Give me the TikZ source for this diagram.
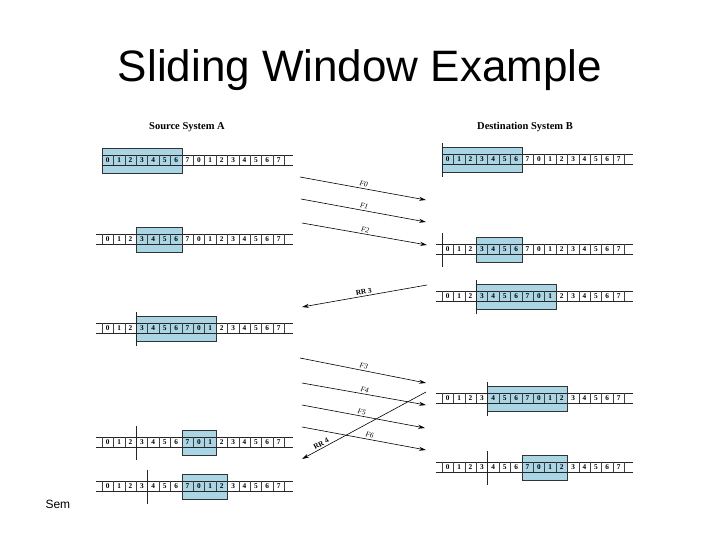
\documentclass[tikz,border=0pt]{standalone}
\usepackage{fontspec}
\setmainfont{Liberation Serif}
\newfontfamily\slidefont{Liberation Sans}
\usepackage{xcolor}
\usepackage{tikz}
\usetikzlibrary{arrows.meta}

\definecolor{winblue}{RGB}{170,213,229}

\tikzset{
  cell/.style={minimum width=11.4pt, minimum height=9pt, inner sep=0,
               font=\fontsize{7.3}{7.3}\selectfont\bfseries},
  winbox/.style={draw=black!80, line width=0.6pt},
  strip/.style={draw=black!85, line width=0.6pt},
  sepline/.style={draw=black!75, line width=0.4pt},
  bound/.style={draw=black!85, line width=0.7pt},
  msg/.style={-{Stealth[length=7pt,width=4pt]}, line width=0.6pt},
  msglabel/.style={above, sloped, inner sep=1.5pt, font=\fontsize{7.3}{7.3}\selectfont},
  header/.style={font=\fontsize{10.5}{10.5}\selectfont\bfseries}
}

\begin{document}
\begin{tikzpicture}[x=1pt, y=-1pt]
  \useasboundingbox (0,0) rectangle (720,540);
  \def\kw{11.4}
  %% Slide title and footer
  \node[font=\slidefont\fontsize{44}{44}\selectfont, anchor=base] (title) at (360,82) {Sliding Window Example};
  \node[font=\slidefont\fontsize{12}{12}\selectfont, anchor=base west] (foot) at (42,508) {Sem};
  %% Column headers
  \node[header] (srchead) at (187,127) {Source System A};
  \node[header] (dsthead) at (525,127) {Destination System B};
  %% Frame rows: name / first cell x / centre y / window from / window to / boundary cell / strip start
  \foreach \rw/\xo/\yc/\wl/\wr/\bk/\sl in {
      s1/102/160/0/7/-1/102, s2/102/239/3/7/-1/96, s3/102/328/3/10/3/96,
      s4/102/442/7/10/3/96, s5/102/486/7/11/4/96,
      d1/442/159/0/7/0/442, d2/442/249/3/7/0/436, d3/442/296/3/10/3/436,
      d4/442/398/4/11/4/436, d5/442/467/7/11/4/436}{
    \fill[winblue] ({\xo+\wl*\kw},{\yc-12}) rectangle ({\xo+\wr*\kw},{\yc+13});
    \draw[strip] (\sl,{\yc-5}) -- ({\xo+191},{\yc-5});
    \draw[strip] (\sl,{\yc+5}) -- ({\xo+191},{\yc+5});
    \foreach \i in {0,...,16}{
      \draw[sepline] ({\xo+\i*\kw},{\yc-5}) -- ({\xo+\i*\kw},{\yc+5});
    }
    \foreach \i in {0,...,15}{
      \pgfmathtruncatemacro\dg{mod(\i,8)}
      \node[cell] (\rw-\i) at ({\xo+(\i+0.5)*\kw},\yc) {\dg};
    }
    \draw[winbox] ({\xo+\wl*\kw},{\yc-12}) rectangle ({\xo+\wr*\kw},{\yc+13});
    \ifnum\bk<0\else
      \draw[bound] ({\xo+\bk*\kw},{\yc-16}) -- ({\xo+\bk*\kw},{\yc+18});
    \fi
  }
  %% Frames and acknowledgements
  \foreach \nm/\xa/\ya/\xb/\yb/\lbl/\ps in {
      f0/300/177/426/200/{\itshape F0}/0.5, f1/301/199/426/222/{\itshape F1}/0.5,
      f2/302/223/427/245/{\itshape F2}/0.5, rr3/427/285/302/307/{\bfseries RR 3}/0.5,
      f3/300/358/426/383/{\itshape F3}/0.5, f4/302/383/426/405/{\itshape F4}/0.5,
      f5/302/405/425/428/{\itshape F5}/0.48, f6/302/427/426/450/{\itshape F6}/0.54,
      rr4/426/392/302/459/{\bfseries RR 4}/0.83}{
    \coordinate (\nm-a) at (\xa,\ya);
    \coordinate (\nm-b) at (\xb,\yb);
    \draw[msg] (\nm-a) -- node[msglabel, pos=\ps] {\lbl} (\nm-b);
  }
\end{tikzpicture}
\end{document}
